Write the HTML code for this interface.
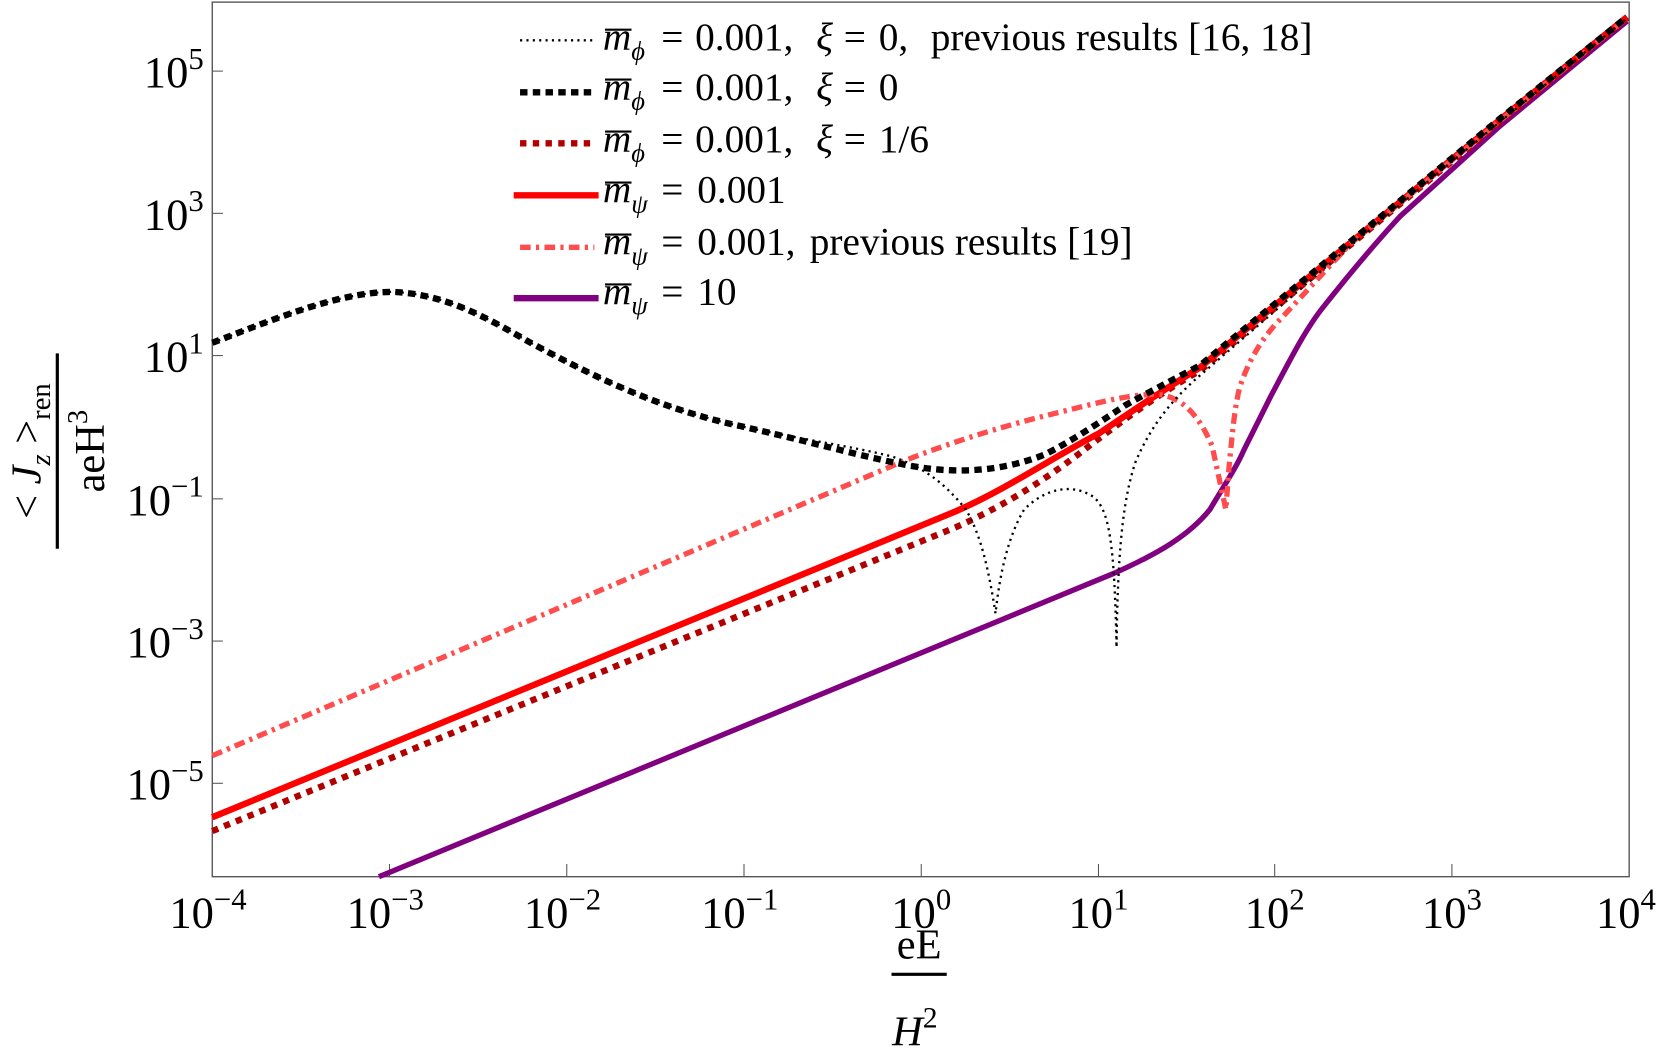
<!DOCTYPE html>
<html><head><meta charset="utf-8"><style>
html,body{margin:0;padding:0;background:#fff;}
svg{display:block;}
text{font-family:"Liberation Serif",serif;fill:#000;}
</style></head><body>
<svg width="1661" height="1055" viewBox="0 0 1565 994" preserveAspectRatio="none" xmlns="http://www.w3.org/2000/svg">
<rect x="0" y="0" width="1565" height="994" fill="#fff"/>
<rect x="200" y="2" width="1335" height="824" fill="none" stroke="#555" stroke-width="1.3"/>
<g stroke="#555" stroke-width="1">
<line x1="367" y1="826" x2="367" y2="814"/><line x1="534" y1="826" x2="534" y2="814"/>
<line x1="701" y1="826" x2="701" y2="814"/><line x1="868" y1="826" x2="868" y2="814"/>
<line x1="1035" y1="826" x2="1035" y2="814"/><line x1="1201" y1="826" x2="1201" y2="814"/>
<line x1="1368" y1="826" x2="1368" y2="814"/>
<line x1="200" y1="67" x2="210" y2="67"/><line x1="200" y1="201" x2="210" y2="201"/>
<line x1="200" y1="335" x2="210" y2="335"/><line x1="200" y1="470" x2="210" y2="470"/>
<line x1="200" y1="604" x2="210" y2="604"/><line x1="200" y1="738" x2="210" y2="738"/>
</g>
<g font-size="42" text-anchor="middle">
<text x="196" y="874">10<tspan dy="-17" font-size="29">−4</tspan></text>
<text x="363" y="874">10<tspan dy="-17" font-size="29">−3</tspan></text>
<text x="530" y="874">10<tspan dy="-17" font-size="29">−2</tspan></text>
<text x="697" y="874">10<tspan dy="-17" font-size="29">−1</tspan></text>
<text x="868" y="874">10<tspan dy="-17" font-size="29">0</tspan></text>
<text x="1035" y="874">10<tspan dy="-17" font-size="29">1</tspan></text>
<text x="1201" y="874">10<tspan dy="-17" font-size="29">2</tspan></text>
<text x="1368" y="874">10<tspan dy="-17" font-size="29">3</tspan></text>
<text x="1532" y="874">10<tspan dy="-17" font-size="29">4</tspan></text>
</g>
<g font-size="42" text-anchor="end">
<text x="192" y="82">10<tspan dy="-17" font-size="29">5</tspan></text>
<text x="192" y="216">10<tspan dy="-17" font-size="29">3</tspan></text>
<text x="192" y="350">10<tspan dy="-17" font-size="29">1</tspan></text>
<text x="192" y="485">10<tspan dy="-17" font-size="29">−1</tspan></text>
<text x="192" y="619">10<tspan dy="-17" font-size="29">−3</tspan></text>
<text x="192" y="753">10<tspan dy="-17" font-size="29">−5</tspan></text>
</g>
<text x="866" y="903" font-size="40" text-anchor="middle">eE</text>
<line x1="840" y1="918" x2="892" y2="918" stroke="#000" stroke-width="3"/>
<text x="862" y="985" font-size="40" text-anchor="middle" font-style="italic">H<tspan dy="-17" font-size="28" font-style="normal">2</tspan></text>
<text transform="translate(38,425) rotate(-90)" font-size="40" text-anchor="middle">&lt; <tspan font-style="italic">J</tspan><tspan dy="9" font-size="27" font-style="italic">z</tspan><tspan dy="-9"> &gt;</tspan><tspan dy="9" font-size="27">ren</tspan></text>
<line x1="54" y1="333" x2="54" y2="517" stroke="#000" stroke-width="3"/>
<text transform="translate(98,425) rotate(-90)" font-size="40" text-anchor="middle">aeH<tspan dy="-16" font-size="27">3</tspan></text>
<g fill="none" stroke-linejoin="round">
<path d="M357,826 L1050,540 C1090,522 1120,505 1140,480 C1155,455 1165,440 1172,424 L1197,374 C1215,340 1230,310 1247,289 C1270,260 1295,230 1319,204 L1413,119 L1533,20" stroke="#800080" stroke-width="5"/>
<path d="M200,783 L900,497 C950,475 990,448 1020,425 C1050,402 1090,372 1131,349 L1272,231 L1413,115 L1533,17" stroke="#b00000" stroke-width="6" stroke-dasharray="6,6"/>
<path d="M200,770 L900,482 C950,460 990,432 1036,408 C1070,385 1100,365 1131,346 L1272,229 L1413,113 L1533,16" stroke="#ff0000" stroke-width="6"/>
<path d="M200,712 L850,435 C900,415 950,400 1000,388 C1040,378 1070,370 1095,372 C1115,376 1130,392 1142,420 L1155,480 L1158,440 C1161,410 1163,385 1168,365 C1178,335 1192,315 1209,298 L1272,230 L1413,114 L1533,17" stroke="#ff4c4c" stroke-width="5" stroke-dasharray="10,5,3,5"/>
<path d="M200,323 C260,300 320,275 370,275 C420,277 460,300 500,323 C560,355 620,385 700,402 C760,415 800,420 840,430 C870,440 890,455 910,480 C925,505 932,540 938,578 C942,540 950,505 965,480 C985,460 1010,455 1030,468 C1045,480 1050,510 1052,610 C1053,520 1058,470 1070,435 C1085,400 1105,375 1135,350 L1272,232 L1413,115 L1533,17" stroke="#000" stroke-width="2.2" stroke-dasharray="2,4"/>
<path d="M200,323 C260,300 320,275 370,275 C420,277 460,300 500,323 C560,355 620,385 700,402 C780,420 840,438 880,442 C920,446 955,440 985,428 C1010,415 1030,402 1060,382 C1085,368 1105,358 1131,344 L1272,228 L1413,112 L1533,16" stroke="#000" stroke-width="6" stroke-dasharray="7,5"/>
</g>
<g>
<line x1="490" y1="38" x2="560" y2="38" stroke="#000" stroke-width="2.2" stroke-dasharray="2,4"/>
<line x1="490" y1="87" x2="560" y2="87" stroke="#000" stroke-width="6" stroke-dasharray="7,5"/>
<line x1="490" y1="135" x2="560" y2="135" stroke="#b00000" stroke-width="6" stroke-dasharray="6,6"/>
<line x1="484" y1="184" x2="564" y2="184" stroke="#ff0000" stroke-width="6"/>
<line x1="490" y1="233" x2="560" y2="233" stroke="#ff4c4c" stroke-width="5" stroke-dasharray="10,5,3,5"/>
<line x1="484" y1="281" x2="564" y2="281" stroke="#800080" stroke-width="6"/>
</g>
<g stroke="#000" stroke-width="2">
<line x1="570" y1="28" x2="595" y2="28"/><line x1="570" y1="75" x2="595" y2="75"/>
<line x1="570" y1="124" x2="595" y2="124"/><line x1="570" y1="172" x2="595" y2="172"/>
<line x1="570" y1="221" x2="595" y2="221"/><line x1="570" y1="268" x2="595" y2="268"/>
</g>
<g font-size="37">
<text y="47"><tspan x="568" font-style="italic">m</tspan><tspan dy="9" font-size="25" font-style="italic">ϕ</tspan><tspan x="623" dy="-9">=</tspan><tspan x="655">0.001,</tspan><tspan x="769" font-style="italic">ξ</tspan><tspan x="795">=</tspan><tspan x="828">0,</tspan><tspan x="877">previous results [16, 18]</tspan></text>
<text y="94"><tspan x="568" font-style="italic">m</tspan><tspan dy="9" font-size="25" font-style="italic">ϕ</tspan><tspan x="623" dy="-9">=</tspan><tspan x="655">0.001,</tspan><tspan x="769" font-style="italic">ξ</tspan><tspan x="795">=</tspan><tspan x="828">0</tspan></text>
<text y="143"><tspan x="568" font-style="italic">m</tspan><tspan dy="9" font-size="25" font-style="italic">ϕ</tspan><tspan x="623" dy="-9">=</tspan><tspan x="655">0.001,</tspan><tspan x="769" font-style="italic">ξ</tspan><tspan x="795">=</tspan><tspan x="828">1/6</tspan></text>
<text y="191"><tspan x="568" font-style="italic">m</tspan><tspan dy="9" font-size="25" font-style="italic">ψ</tspan><tspan x="623" dy="-9">=</tspan><tspan x="657">0.001</tspan></text>
<text y="240"><tspan x="568" font-style="italic">m</tspan><tspan dy="9" font-size="25" font-style="italic">ψ</tspan><tspan x="623" dy="-9">=</tspan><tspan x="657">0.001,</tspan><tspan x="763">previous results [19]</tspan></text>
<text y="287"><tspan x="568" font-style="italic">m</tspan><tspan dy="9" font-size="25" font-style="italic">ψ</tspan><tspan x="623" dy="-9">=</tspan><tspan x="657">10</tspan></text>
</g>
</svg>
</body></html>
